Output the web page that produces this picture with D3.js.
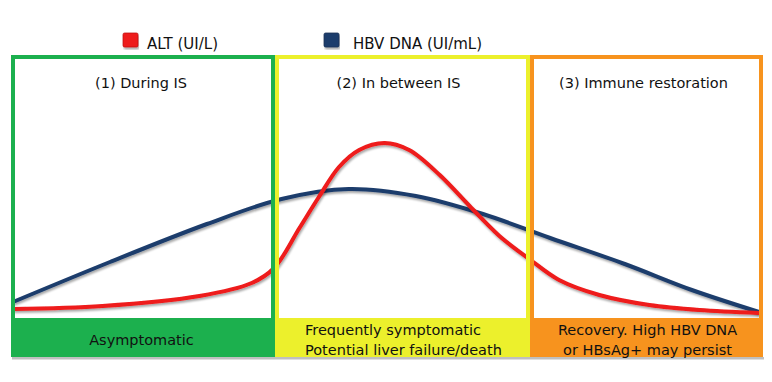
<!DOCTYPE html>
<html>
<head>
<meta charset="utf-8">
<script src="https://cdn.jsdelivr.net/npm/d3@7"></script>
<style>
  html, body { margin: 0; padding: 0; background: #ffffff; }
  svg { display: block; }
  text { font-family: "DejaVu Sans", Verdana, sans-serif; fill: #111; }
</style>
</head>
<body>
<svg id="chart" width="772" height="382"></svg>
<script>
// ---- data ----
const seriesNames = ["ALT (UI/L)", "HBV DNA (UI/mL)"];
const seriesColors = ["#ee1a1a", "#1d3d6c"];

const phaseTitles = ["(1) During IS", "(2) In between IS", "(3) Immune restoration"];
const phaseOutcomes = [
  ["Asymptomatic"],
  ["Frequently symptomatic", "Potential liver failure/death"],
  ["Recovery. High HBV DNA", "or HBsAg+ may persist"]
];
const phaseColors = ["#1cb04e", "#ecf02c", "#f7931e"];
const phaseBounds = [0, 35, 69.2, 100];

const hbvTime  = [0, 13, 26, 36, 45, 54, 63, 72, 82, 91, 100];
const hbvLevel = [8, 28, 47, 59.5, 64.5, 61, 52, 40, 27, 14, 3];

const altTime  = [0, 12, 25, 32, 35, 38.4, 41, 43.7, 46.4, 49.8, 53.1, 57.2, 61.2, 65.2, 69.2, 73.2, 78.6, 85.3, 92, 100];
const altLevel = [4.5, 6, 11, 17.5, 25, 45, 60.5, 75.5, 84, 87.5, 84, 71.5, 56, 41, 29.5, 19, 11.5, 6.5, 4, 2.5];

// ---- layout ----
(function () {
const svg = d3.select("#chart");
const x = d3.scaleLinear().domain([0, 100]).range([13, 759]);
const y = d3.scaleLinear().domain([0, 100]).range([318, 118]);

const panelTop = 55, panelBottom = 357, boxTop = 318, bw = 4;
const edges = phaseBounds.map((b, i) => i === 0 ? 11 : (i === phaseBounds.length - 1 ? 763 : Math.round(x(b)) + 1));

// defs: soft shadow
const defs = svg.append("defs");
const f = defs.append("filter").attr("id", "sh").attr("x", "-5%").attr("y", "-5%").attr("width", "110%").attr("height", "120%");
f.append("feGaussianBlur").attr("in", "SourceAlpha").attr("stdDeviation", 1.2);
f.append("feOffset").attr("dx", 1).attr("dy", 1.5).attr("result", "ob");
f.append("feComponentTransfer").append("feFuncA").attr("type", "linear").attr("slope", 0.35);
const fm = f.append("feMerge");
fm.append("feMergeNode");
fm.append("feMergeNode").attr("in", "SourceGraphic");

// box shadows
phaseColors.forEach((c, i) => {
  svg.append("rect")
    .attr("x", edges[i] + 1).attr("y", panelBottom)
    .attr("width", edges[i + 1] - edges[i]).attr("height", 2.5)
    .attr("fill", "#8a8a8a").attr("opacity", 0.55);
});

// curves
const lineGen = d3.line().x(d => x(d[0])).y(d => y(d[1])).curve(d3.curveCatmullRom.alpha(0.5));
const hbvData = hbvTime.map((t, i) => [t, hbvLevel[i]]);
const altData = altTime.map((t, i) => [t, altLevel[i]]);

svg.append("path").datum(hbvData).attr("d", lineGen)
  .attr("fill", "none").attr("stroke", seriesColors[1]).attr("stroke-width", 4)
  .attr("filter", "url(#sh)");
svg.append("path").datum(altData).attr("d", lineGen)
  .attr("fill", "none").attr("stroke", seriesColors[0]).attr("stroke-width", 4)
  .attr("filter", "url(#sh)");

// panels
phaseColors.forEach((c, i) => {
  const l = edges[i], r = edges[i + 1];
  svg.append("rect")
    .attr("x", l + bw / 2).attr("y", panelTop + bw / 2)
    .attr("width", r - l - bw).attr("height", panelBottom - panelTop - bw)
    .attr("fill", "none").attr("stroke", c).attr("stroke-width", bw);
  svg.append("rect")
    .attr("x", l).attr("y", boxTop)
    .attr("width", r - l).attr("height", panelBottom - boxTop)
    .attr("fill", c);
});

// titles
const titleCenters = [141, 398.5, 643.5];
phaseTitles.forEach((t, i) => {
  svg.append("text").attr("x", titleCenters[i]).attr("y", 88)
    .attr("text-anchor", "middle").attr("font-size", 14.5).text(t);
});

// outcome texts
svg.append("text").attr("x", 141.5).attr("y", 345)
  .attr("text-anchor", "middle").attr("font-size", 14.5).text(phaseOutcomes[0][0]);
phaseOutcomes[1].forEach((t, j) => {
  svg.append("text").attr("x", 305).attr("y", 335 + j * 20)
    .attr("text-anchor", "start").attr("font-size", 14.5).text(t);
});
phaseOutcomes[2].forEach((t, j) => {
  svg.append("text").attr("x", 647.5).attr("y", 335 + j * 19.5)
    .attr("text-anchor", "middle").attr("font-size", 14.5).text(t);
});

// legend
const legX = [123, 324], legTextX = [147, 353];
seriesNames.forEach((n, i) => {
  svg.append("rect").attr("x", legX[i]).attr("y", 33)
    .attr("width", 15).attr("height", 14).attr("rx", 1.5)
    .attr("fill", seriesColors[i]).attr("stroke", d3.color(seriesColors[i]).darker(0.6)).attr("stroke-width", 0.8)
    .attr("filter", "url(#sh)");
  svg.append("text").attr("x", legTextX[i]).attr("y", 48.5)
    .attr("font-size", 15).text(n);
});
})();
</script>
</body>
</html>
